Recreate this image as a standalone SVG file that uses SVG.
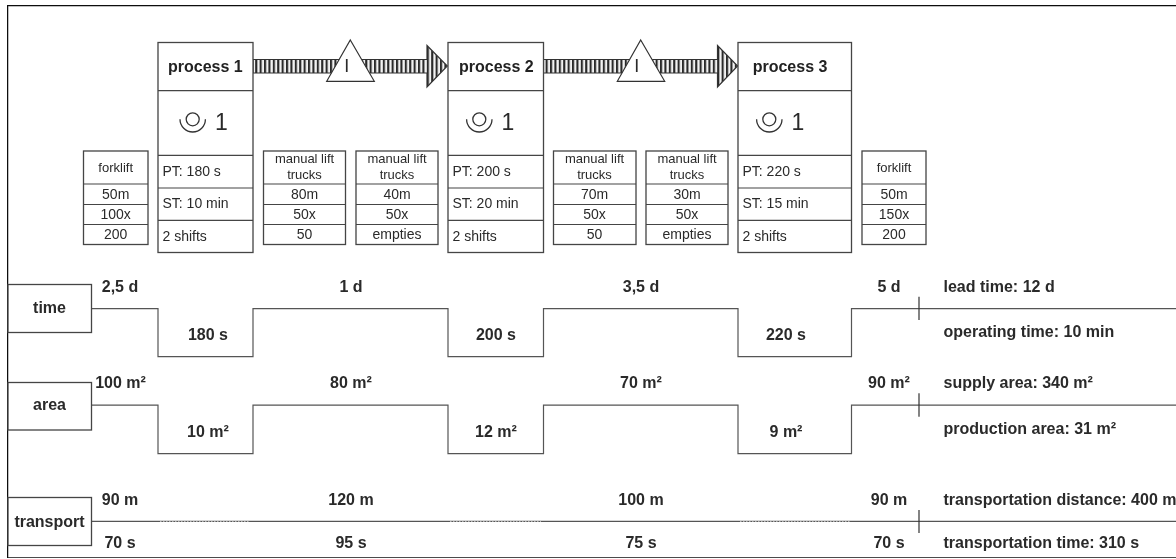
<svg xmlns="http://www.w3.org/2000/svg" width="1176" height="559" viewBox="0 0 1176 559">
<style>
text{font-family:"Liberation Sans",Arial,sans-serif;fill:#2a2a2a}
.b{font-weight:bold;font-size:16px}
.bm{font-weight:bold;font-size:16px;text-anchor:middle}
.pn{font-weight:bold;font-size:16px;fill:#222}
.s{font-size:14px}
.c{font-size:14px;text-anchor:middle}
.c2{font-size:13px;text-anchor:middle}
.n{font-size:23px}
.i{font-size:18px}
.box{fill:#fff;stroke:#444;stroke-width:1.3}
.div{stroke:#444;stroke-width:1.2;fill:none}
.line{fill:none;stroke:#555;stroke-width:1.2}
.tick{stroke:#333;stroke-width:1.2}
.ico{fill:none;stroke:#333;stroke-width:1.3}
</style>
<defs>
<pattern id="st" width="4.4" height="10" patternUnits="userSpaceOnUse"><rect width="4.4" height="10" fill="#f2f2f2"/><rect width="2.1" height="10" fill="#2a2a2a"/></pattern>
<g id="op"><circle cx="0" cy="0" r="6.5" class="ico"/><path d="M-12.7 0A12.7 12.7 0 0 0 12.7 0" class="ico"/></g>
<filter id="soft" x="0" y="0" width="100%" height="100%"><feGaussianBlur stdDeviation="0.35"/></filter>
</defs>
<rect width="1176" height="559" fill="#fff"/>
<g filter="url(#soft)">
<path d="M1176 5.5H7.5V558H1176" fill="none" stroke="#111" stroke-width="1.5"/>
<g id="connectors">
<path d="M253 59.5H427V45.5L447.3 66 427 87V73H253Z" fill="url(#st)" stroke="#333" stroke-width="1.2"/>
<path d="M543.5 59.5H717.5V45.5L737.6 66 717.5 87V73H543.5Z" fill="url(#st)" stroke="#333" stroke-width="1.2"/>
<path class="line" d="M91.5 308.7H158V356.7H253V308.7H448V356.7H543.5V308.7H738V356.7H851.5V308.7H1176"/>
<path class="line" d="M91.5 405.2H158V453.7H253V405.2H448V453.7H543.5V405.2H738V453.7H851.5V405.2H1176"/>
<path class="line" d="M91.5 521.3H1176"/>
<path d="M160 521.3H250M450 521.3H541M740 521.3H850" stroke="#ccc" stroke-width="1" stroke-dasharray="1.5 1.5" fill="none"/>
<path class="tick" d="M919 296.7V320M919 393.3V416.7M919 510V533"/>
</g>
<g id="inventory-1"><path d="M350.3 40L374.3 81.3H326.7Z" fill="#fff" stroke="#333" stroke-width="1.2"/><text class="i" x="344.2" y="72.3">I</text></g>
<g id="inventory-2"><path d="M640.7 40L664.7 81.3H617.3Z" fill="#fff" stroke="#333" stroke-width="1.2"/><text class="i" x="634.2" y="72.3">I</text></g>

<g id="process-1"><rect class="box" x="158" y="42.5" width="95" height="210"/><path class="div" d="M158 90.7H253M158 155.3H253M158 188H253M158 220.3H253"/>
<text class="pn" x="168" y="71.5">process 1</text><use href="#op" x="192.7" y="119.3"/><text class="n" x="215" y="130">1</text>
<text class="s" x="162.5" y="176">PT: 180 s</text><text class="s" x="162.5" y="208">ST: 10 min</text><text class="s" x="162.5" y="240.5">2 shifts</text></g>
<g id="process-2"><rect class="box" x="448" y="42.5" width="95.5" height="210"/><path class="div" d="M448 90.7H543.5M448 155.3H543.5M448 188H543.5M448 220.3H543.5"/>
<text class="pn" x="459" y="71.5">process 2</text><use href="#op" x="479.3" y="119.3"/><text class="n" x="501.5" y="130">1</text>
<text class="s" x="452.5" y="176">PT: 200 s</text><text class="s" x="452.5" y="208">ST: 20 min</text><text class="s" x="452.5" y="240.5">2 shifts</text></g>
<g id="process-3"><rect class="box" x="738" y="42.5" width="113.5" height="210"/><path class="div" d="M738 90.7H851.5M738 155.3H851.5M738 188H851.5M738 220.3H851.5"/>
<text class="pn" x="752.7" y="71.5">process 3</text><use href="#op" x="769.3" y="119.3"/><text class="n" x="791.5" y="130">1</text>
<text class="s" x="742.5" y="176">PT: 220 s</text><text class="s" x="742.5" y="208">ST: 15 min</text><text class="s" x="742.5" y="240.5">2 shifts</text></g>

<g id="transport-a"><rect class="box" x="83.5" y="151" width="64.5" height="93.5"/><path class="div" d="M83.5 184H148M83.5 204.5H148M83.5 224.5H148"/>
<text class="c2" x="115.7" y="172">forklift</text><text class="c" x="115.7" y="199">50m</text><text class="c" x="115.7" y="219">100x</text><text class="c" x="115.7" y="239">200</text></g>
<g id="transport-b"><rect class="box" x="263.5" y="151" width="82" height="93.5"/><path class="div" d="M263.5 184H345.5M263.5 204.5H345.5M263.5 224.5H345.5"/>
<text class="c2" x="304.5" y="163.3">manual lift</text><text class="c2" x="304.5" y="179">trucks</text><text class="c" x="304.5" y="199">80m</text><text class="c" x="304.5" y="219">50x</text><text class="c" x="304.5" y="239">50</text></g>
<g id="transport-c"><rect class="box" x="356" y="151" width="82" height="93.5"/><path class="div" d="M356 184H438M356 204.5H438M356 224.5H438"/>
<text class="c2" x="397" y="163.3">manual lift</text><text class="c2" x="397" y="179">trucks</text><text class="c" x="397" y="199">40m</text><text class="c" x="397" y="219">50x</text><text class="c" x="397" y="239">empties</text></g>
<g id="transport-d"><rect class="box" x="553.5" y="151" width="82.5" height="93.5"/><path class="div" d="M553.5 184H636M553.5 204.5H636M553.5 224.5H636"/>
<text class="c2" x="594.5" y="163.3">manual lift</text><text class="c2" x="594.5" y="179">trucks</text><text class="c" x="594.5" y="199">70m</text><text class="c" x="594.5" y="219">50x</text><text class="c" x="594.5" y="239">50</text></g>
<g id="transport-e"><rect class="box" x="646" y="151" width="82" height="93.5"/><path class="div" d="M646 184H728M646 204.5H728M646 224.5H728"/>
<text class="c2" x="687" y="163.3">manual lift</text><text class="c2" x="687" y="179">trucks</text><text class="c" x="687" y="199">30m</text><text class="c" x="687" y="219">50x</text><text class="c" x="687" y="239">empties</text></g>
<g id="transport-f"><rect class="box" x="862" y="151" width="64" height="93.5"/><path class="div" d="M862 184H926M862 204.5H926M862 224.5H926"/>
<text class="c2" x="894" y="172">forklift</text><text class="c" x="894" y="199">50m</text><text class="c" x="894" y="219">150x</text><text class="c" x="894" y="239">200</text></g>

<g id="time"><rect class="box" x="8" y="284.5" width="83.5" height="48"/><text class="bm" x="49.5" y="313.3">time</text></g>
<g id="area"><rect class="box" x="8" y="382.5" width="83.5" height="47.5"/><text class="bm" x="49.5" y="410">area</text></g>
<g id="transport"><rect class="box" x="8" y="497.5" width="83.5" height="48"/><text class="bm" x="49.5" y="526.5">transport</text></g>

<g id="labels">
<text class="bm" x="120" y="291.5">2,5 d</text><text class="bm" x="208" y="340">180 s</text><text class="bm" x="351" y="291.5">1 d</text><text class="bm" x="496" y="340">200 s</text><text class="bm" x="641" y="291.5">3,5 d</text><text class="bm" x="786" y="340">220 s</text><text class="bm" x="889" y="291.5">5 d</text>
<text class="bm" x="120.5" y="388.3">100 m²</text><text class="bm" x="208" y="436.7">10 m²</text><text class="bm" x="351" y="388.3">80 m²</text><text class="bm" x="496" y="436.7">12 m²</text><text class="bm" x="641" y="388.3">70 m²</text><text class="bm" x="786" y="436.7">9 m²</text><text class="bm" x="889" y="388.3">90 m²</text>
<text class="bm" x="120" y="505">90 m</text><text class="bm" x="120" y="548">70 s</text><text class="bm" x="351" y="505">120 m</text><text class="bm" x="351" y="548">95 s</text><text class="bm" x="641" y="505">100 m</text><text class="bm" x="641" y="548">75 s</text><text class="bm" x="889" y="505">90 m</text><text class="bm" x="889" y="548">70 s</text>
<text class="b" x="943.5" y="291.5">lead time: 12 d</text><text class="b" x="943.5" y="336.5">operating time: 10 min</text><text class="b" x="943.5" y="388.3">supply area: 340 m²</text><text class="b" x="943.5" y="433.5">production area: 31 m²</text><text class="b" x="943.5" y="505">transportation distance: 400 m</text><text class="b" x="943.5" y="548">transportation time: 310 s</text>
</g>
</g>
</svg>
